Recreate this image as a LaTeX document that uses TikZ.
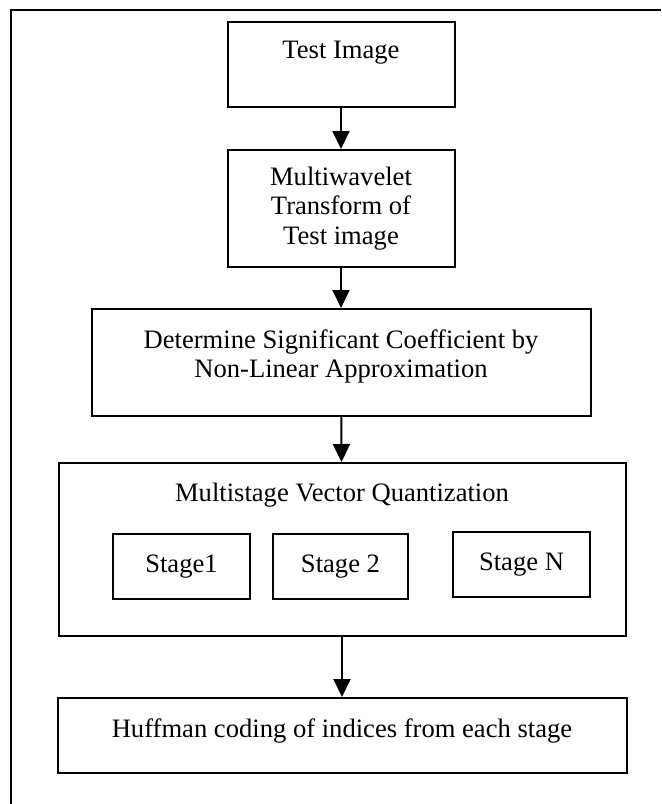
\documentclass[tikz,border=0pt]{standalone}
\usepackage{fontspec}
\setmainfont{Liberation Serif}
\usetikzlibrary{arrows.meta}

\begin{document}
\begin{tikzpicture}[x=0.5pt,y=-0.5pt]

\tikzset{block/.style = {shape=rectangle,draw,line width=1pt,inner sep=2pt,align=center,font=\fontsize{13.3}{14.8}\selectfont}}
\tikzset{edge/.style = {->,> = {Triangle[width=8.5pt,length=9pt]},line width=1pt}}
\path[use as bounding box] (0,0) rectangle (661,804);
%frame
\coordinate (frametr) at (661,10);
\coordinate (frametl) at (11,10);
\coordinate (framebl) at (11,804);
\draw[line width=0.8pt] (frametr) -- (frametl) -- (framebl);
%blocks
\node[block, minimum width=113.5pt, minimum height=42.5pt, text depth=14.4pt] (test) at (341,64.5) {Test Image};
\node[block, minimum width=113.5pt, minimum height=58.5pt] (mwt) at (341,208.5) {Multiwavelet\\Transform of\\Test image};
\node[block, minimum width=249.5pt, minimum height=53.5pt, text depth=8.9pt] (sig) at (341,362.5) {Determine Significant Coefficient by\\Non-Linear Approximation};
\node[block, minimum width=283.5pt, minimum height=86.5pt, text depth=57.4pt] (mvq) at (342,549.5) {Multistage Vector Quantization};
\node[block, minimum width=68.5pt, minimum height=32.5pt] (stage1) at (181.5,566.5) {Stage1};
\node[block, minimum width=67.5pt, minimum height=32.5pt] (stage2) at (340.5,566.5) {Stage 2};
\node[block, minimum width=68.5pt, minimum height=32.5pt] (stagen) at (521.5,564.5) {Stage N};
\node[block, minimum width=284.5pt, minimum height=37.5pt, text depth=7.4pt] (huff) at (342,735.5) {Huffman coding of indices from each stage};
%edges
\draw [edge] (test) -- (mwt);
\draw [edge] (mwt) -- (sig);
\draw [edge] (sig) -- (mvq);
\draw [edge] (mvq) -- (huff);

\end{tikzpicture}
\end{document}
